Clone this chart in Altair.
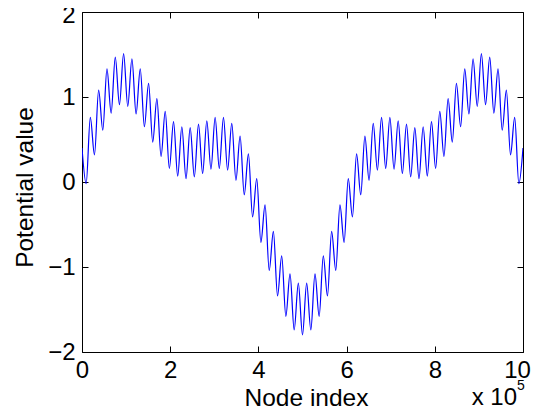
import altair as alt
import pandas as pd

# Extreme values (alternating peaks / troughs)
potential_extrema = [
    0.40, -0.02, 0.76, 0.32, 1.08, 0.61, 1.33, 0.81, 1.47, 0.91,
    1.51, 0.89, 1.45, 0.80, 1.33, 0.65, 1.16, 0.47, 0.98, 0.30,
    0.83, 0.16, 0.71, 0.07, 0.65, 0.04, 0.64, 0.06, 0.68, 0.10,
    0.72, 0.15, 0.76, 0.16, 0.76, 0.14, 0.69, 0.02, 0.54, -0.15,
    0.33, -0.41, 0.04, -0.71, -0.27, -1.04, -0.58, -1.34, -0.87, -1.58,
    -1.08, -1.74, -1.19, -1.80,
    -1.19, -1.74, -1.08, -1.58, -0.87, -1.34, -0.58, -1.04, -0.27, -0.71,
    0.04, -0.41, 0.33, -0.15, 0.54, 0.02, 0.69, 0.14, 0.76, 0.16,
    0.76, 0.15, 0.72, 0.10, 0.68, 0.06, 0.64, 0.04, 0.65, 0.07,
    0.71, 0.16, 0.83, 0.30, 0.98, 0.47, 1.16, 0.65, 1.33, 0.80,
    1.45, 0.89, 1.51, 0.91, 1.47, 0.81, 1.33, 0.61, 1.08, 0.32,
    0.76, -0.02, 0.40,
]
N_NODES = 1000000
x_ticks = [0, 200000, 400000, 600000, 800000, 1000000]
y_ticks = [-2, -1, 0, 1, 2]
x_domain = [0, 1000000]
y_domain = [-2, 2]

n = len(potential_extrema)
node_index = [round(k * N_NODES / (n - 1)) for k in range(n)]
df = pd.DataFrame({"node": node_index, "value": potential_extrema})

FONT = "Liberation Sans"
W, H = 441, 340
LABEL_SIZE = 24
TITLE_SIZE = 24.5

xscale = alt.Scale(domain=x_domain, nice=False, zero=False)
yscale = alt.Scale(domain=y_domain, nice=False, zero=False)

line = alt.Chart(df).mark_line(
    color="#0000ff", strokeWidth=1.2, interpolate="monotone", clip=True
).encode(
    x=alt.X(
        "node:Q", scale=xscale,
        axis=alt.Axis(
            values=x_ticks, labelExpr="format(datum.value / 100000, 'd')",
            title="Node index", grid=True, gridDash=[6, H - 12, 6],
            gridColor="black", gridWidth=1, gridOpacity=1,
            ticks=False, tickSize=0, domain=False, labelFlush=False,
            labelOverlap=False, labelPadding=6, labelFontSize=LABEL_SIZE,
            labelOffset={"condition": {"test": "datum.value == 1000000", "value": -6}, "value": 0},
            titleFontSize=TITLE_SIZE, titleX=224, titleY=53,
            titleBaseline="alphabetic", titleAlign="center",
        ),
    ),
    y=alt.Y(
        "value:Q", scale=yscale,
        axis=alt.Axis(
            values=y_ticks, format="d", title="Potential value", grid=True,
            gridDash=[6, W - 12, 6], gridColor="black", gridWidth=1,
            gridOpacity=1, ticks=False, tickSize=0, domain=False,
            labelFlush=False, labelOverlap=False, labelPadding=7,
            labelOffset={"condition": {"test": "datum.value == 2", "value": 3}, "value": 0},
            labelFontSize=LABEL_SIZE, titleFontSize=TITLE_SIZE, titleX=-50, titleY=175,
            titleBaseline="alphabetic", titleAlign="center",
        ),
    ),
)

mult = alt.Chart(pd.DataFrame({"label": ["x 10"]})).mark_text(
    align="right", baseline="alphabetic", dx=-6, dy=53,
    fontSize=LABEL_SIZE, font=FONT, color="black",
).encode(x=alt.datum(1000000), y=alt.datum(-2), text="label:N")

expo = alt.Chart(pd.DataFrame({"label": ["5"]})).mark_text(
    align="left", baseline="alphabetic", dx=-6, dy=38,
    fontSize=14, font=FONT, color="black",
).encode(x=alt.datum(1000000), y=alt.datum(-2), text="label:N")

chart = alt.layer(line, mult, expo).properties(
    width=W, height=H,
    autosize=alt.AutoSizeParams(type="none"),
    padding={"left": 74, "top": 4, "right": 8, "bottom": 55},
).configure_view(
    stroke="black", strokeWidth=1
).configure_axis(
    labelFont=FONT, titleFont=FONT, labelColor="black",
    titleColor="black", titleFontWeight="normal",
)

chart.save("out.html", embed_options={"renderer": "svg", "actions": False})
